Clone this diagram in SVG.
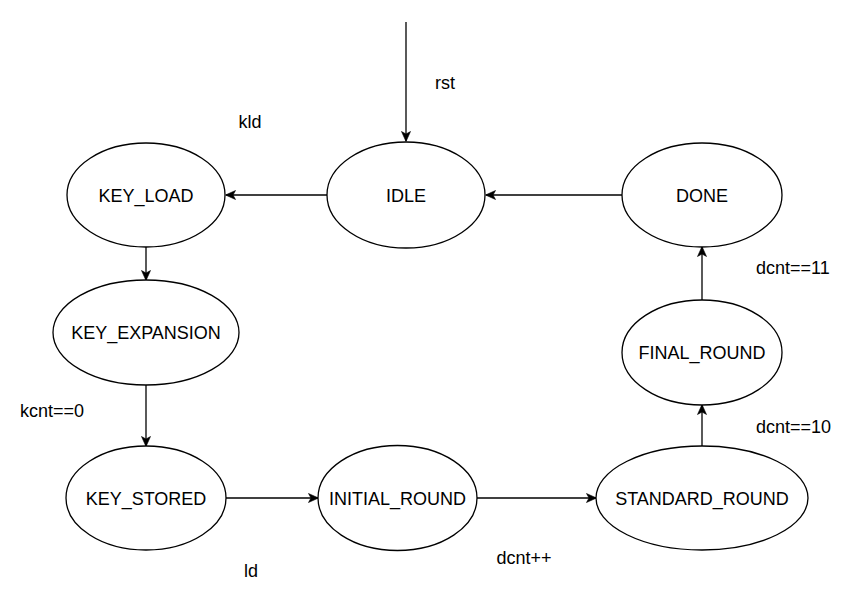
<svg xmlns="http://www.w3.org/2000/svg" width="846" height="605" viewBox="0 0 846 605">
<style>
.n ellipse{fill:#fff;stroke:#000;stroke-width:1.3}
text{font-family:"Liberation Sans",Arial,sans-serif;font-size:18px;fill:#000}
.n text{text-anchor:middle}
.e line{stroke:#000;stroke-width:1.3;fill:none}
</style>
<defs>
<marker id="a" viewBox="0 0 11 11" refX="10" refY="5.5" markerWidth="11" markerHeight="11" markerUnits="userSpaceOnUse" orient="auto">
<path d="M0.5,1 L10.5,5.5 L0.5,10 L3,5.5 Z" fill="#000" stroke="#000" stroke-width="0.6"/>
</marker>
</defs>
<rect width="846" height="605" fill="#fff"/>
<g class="e" id="connectors">
<line x1="406" y1="22" x2="406" y2="141" marker-end="url(#a)"/>
<line x1="327" y1="195" x2="226" y2="195" marker-end="url(#a)"/>
<line x1="622" y1="195" x2="486" y2="195" marker-end="url(#a)"/>
<line x1="146" y1="247" x2="146" y2="280" marker-end="url(#a)"/>
<line x1="146" y1="385" x2="146" y2="446" marker-end="url(#a)"/>
<line x1="226" y1="498" x2="318" y2="498" marker-end="url(#a)"/>
<line x1="477" y1="498" x2="596" y2="498" marker-end="url(#a)"/>
<line x1="702" y1="446" x2="702" y2="405" marker-end="url(#a)"/>
<line x1="702" y1="300" x2="702" y2="247" marker-end="url(#a)"/>
</g>
<g id="labels">
<text x="445" y="89" text-anchor="middle">rst</text>
<text x="250" y="128" text-anchor="middle">kld</text>
<text x="756" y="274">dcnt==11</text>
<text x="756" y="433">dcnt==10</text>
<text x="20" y="417">kcnt==0</text>
<text x="251" y="577" text-anchor="middle">ld</text>
<text x="524" y="564" text-anchor="middle">dcnt++</text>
</g>
<g class="n" id="IDLE"><ellipse cx="406" cy="195" rx="79" ry="53"/><text x="406" y="201.5">IDLE</text></g>
<g class="n" id="KEY_LOAD"><ellipse cx="146" cy="195" rx="79" ry="52"/><text x="146" y="201.5">KEY_LOAD</text></g>
<g class="n" id="DONE"><ellipse cx="702" cy="195" rx="80" ry="52"/><text x="702" y="201.5">DONE</text></g>
<g class="n" id="KEY_EXPANSION"><ellipse cx="146" cy="332.5" rx="93" ry="52.5"/><text x="146" y="339">KEY_EXPANSION</text></g>
<g class="n" id="FINAL_ROUND"><ellipse cx="702" cy="352.5" rx="80" ry="52.5"/><text x="702" y="359">FINAL_ROUND</text></g>
<g class="n" id="KEY_STORED"><ellipse cx="146" cy="498" rx="80" ry="52"/><text x="146" y="504.5">KEY_STORED</text></g>
<g class="n" id="INITIAL_ROUND"><ellipse cx="397.5" cy="498" rx="79.5" ry="52.5"/><text x="397.5" y="504.5">INITIAL_ROUND</text></g>
<g class="n" id="STANDARD_ROUND"><ellipse cx="702" cy="498" rx="106" ry="52"/><text x="702" y="504.5">STANDARD_ROUND</text></g>
</svg>
